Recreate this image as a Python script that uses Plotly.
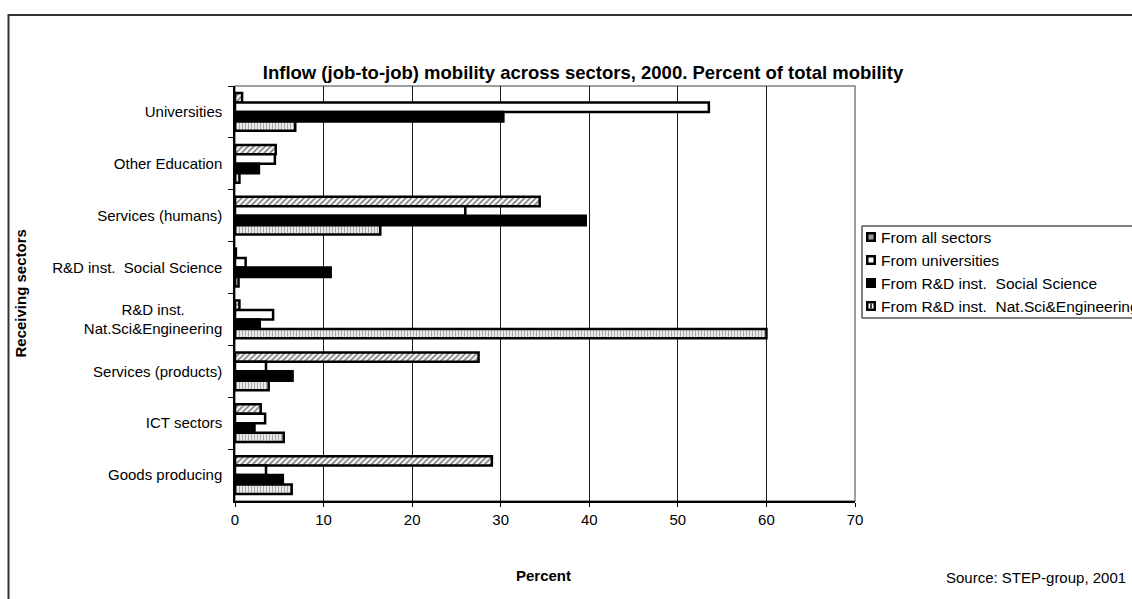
import plotly.graph_objects as go

categories = [
    "Universities",
    "Other Education",
    "Services (humans)",
    "R&D inst.\u00a0 Social Science",
    "R&D inst." + "\u00a0" * 9 + "<br>Nat.Sci&Engineering",
    "Services (products)",
    "ICT sectors",
    "Goods producing",
]

series_names = [
    "From all sectors",
    "From universities",
    "From R&D inst.\u00a0 Social Science",
    "From R&D inst.\u00a0 Nat.Sci&Engineering",
]

from_all_sectors = [0.8, 4.6, 34.4, 0.1, 0.5, 27.5, 2.9, 29.0]
from_universities = [53.5, 4.5, 26.0, 1.2, 4.3, 3.5, 3.4, 3.5]
from_rd_social = [30.3, 2.7, 39.6, 10.8, 2.8, 6.5, 2.2, 5.4]
from_rd_natsci = [6.8, 0.5, 16.4, 0.4, 60.0, 3.8, 5.5, 6.4]

x_ticks = [0, 10, 20, 30, 40, 50, 60, 70]

FONT = "Arial, Liberation Sans, sans-serif"

W, H = 1132, 599
L, R, T, B = 235, 855, 86, 501
pw, ph = R - L, B - T


def px_x(p):
    return (p - L) / pw


def px_y(p):
    return (B - p) / ph


styles = [
    dict(color="white", pattern=dict(shape="/", size=4, solidity=0.45, fgcolor="black", bgcolor="white")),
    dict(color="white"),
    dict(color="black"),
    dict(color="white", pattern=dict(shape="|", size=3, solidity=0.5, fgcolor="#555555", bgcolor="white")),
]

fig = go.Figure()
for name, vals, st in zip(series_names, [from_all_sectors, from_universities, from_rd_social, from_rd_natsci], styles):
    marker = dict(st)
    marker["line"] = dict(color="black", width=2.5)
    fig.add_trace(go.Bar(
        y=categories, x=vals, name=name, orientation="h",
        marker=marker, hoverinfo="x+name", showlegend=False,
    ))

fig.update_layout(
    width=W, height=H,
    margin=dict(l=L, r=W - R, t=T, b=H - B, autoexpand=False),
    paper_bgcolor="white", plot_bgcolor="white",
    barmode="group", bargap=0.27, bargroupgap=0,
    font=dict(family=FONT, size=15, color="black"),
    title=dict(
        text="<b>Inflow (job-to-job) mobility across sectors, 2000. Percent of total mobility</b>",
        x=583 / W, xref="container", xanchor="center",
        y=1 - 73 / H, yref="container", yanchor="middle",
        font=dict(family=FONT, size=18.5, color="black"),
    ),
    showlegend=False,
)

fig.update_xaxes(
    range=[0, 70], tickvals=x_ticks, ticktext=[str(v) for v in x_ticks],
    showgrid=True, gridcolor="#1a1a1a", gridwidth=1,
    showline=True, linecolor="black", linewidth=1.5,
    ticks="outside", ticklen=4, tickcolor="black",
    zeroline=False, fixedrange=True,
)
fig.update_yaxes(
    categoryorder="array", categoryarray=categories,
    autorange="reversed",
    showgrid=False, showline=True, linecolor="black", linewidth=1.5,
    ticks="outside", ticklen=5, tickcolor="black", tickson="boundaries",
    ticklabelstandoff=8,
    fixedrange=True,
)

# plot-area border (gray top/right)
fig.add_shape(type="rect", xref="paper", yref="paper", x0=0, x1=1, y0=0, y1=1,
              line=dict(color="#808080", width=1.5), layer="below")
# outer chart frame, extending past the right and bottom edges
fig.add_shape(type="rect", xref="paper", yref="paper",
              x0=px_x(8.5), x1=px_x(1200), y0=px_y(700), y1=px_y(15),
              line=dict(color="#333333", width=2), fillcolor="rgba(0,0,0,0)", layer="above")

# legend box (drawn by hand so that its layout follows the reference)
fig.add_shape(type="rect", xref="paper", yref="paper",
              x0=px_x(862), x1=px_x(1200), y0=px_y(318), y1=px_y(226),
              line=dict(color="black", width=1), fillcolor="white", layer="above")

row_y = [237, 260, 283, 306]
inner_fill = ["#9a9a9a", "white", "black", "white"]
sx0, sx1 = 866, 876
for i, (name, yc) in enumerate(zip(series_names, row_y)):
    fig.add_shape(type="rect", xref="paper", yref="paper",
                  x0=px_x(sx0), x1=px_x(sx1), y0=px_y(yc + 5), y1=px_y(yc - 5),
                  line=dict(width=0), fillcolor="black", layer="above")
    if inner_fill[i] != "black":
        fig.add_shape(type="rect", xref="paper", yref="paper",
                      x0=px_x(sx0 + 2.5), x1=px_x(sx1 - 2.5), y0=px_y(yc + 2.5), y1=px_y(yc - 2.5),
                      line=dict(width=0), fillcolor=inner_fill[i], layer="above")
    if i == 3:
        fig.add_shape(type="line", xref="paper", yref="paper",
                      x0=px_x((sx0 + sx1) / 2), x1=px_x((sx0 + sx1) / 2),
                      y0=px_y(yc + 2.5), y1=px_y(yc - 2.5),
                      line=dict(color="black", width=1.5), layer="above")
    fig.add_annotation(text=name, xref="paper", yref="paper",
                       x=px_x(879), y=px_y(yc), xanchor="left", yanchor="middle",
                       showarrow=False, font=dict(family=FONT, size=15.5, color="black"))

fig.add_annotation(text="<b>Receiving sectors</b>", textangle=-90,
                   xref="paper", yref="paper", x=px_x(20), y=0.5,
                   xanchor="center", yanchor="middle", showarrow=False,
                   font=dict(family=FONT, size=15, color="black"))
fig.add_annotation(text="<b>Percent</b>", xref="paper", yref="paper",
                   x=px_x(543), y=px_y(575), xanchor="center", yanchor="middle",
                   showarrow=False, font=dict(family=FONT, size=15, color="black"))
fig.add_annotation(text="Source: STEP-group, 2001", xref="paper", yref="paper",
                   x=px_x(1128), y=px_y(577), xanchor="right", yanchor="middle",
                   showarrow=False, font=dict(family=FONT, size=15, color="black"))

fig.write_html("out.html")
